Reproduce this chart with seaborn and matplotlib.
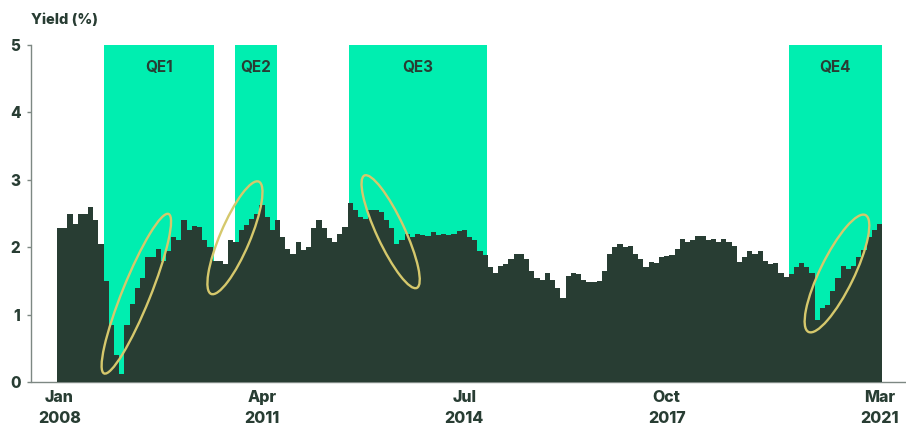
import matplotlib
matplotlib.use("Agg")
import matplotlib.pyplot as plt
import matplotlib.transforms as mtransforms
from matplotlib.patches import Ellipse
import numpy as np
import pandas as pd
import seaborn as sns

# Monthly yield (%), Jan 2008 - Mar 2021
yield_2008 = [2.28, 2.28, 2.50, 2.35, 2.50, 2.50, 2.60, 2.40, 2.05, 1.50, 0.85, 0.40]
yield_2009 = [0.12, 0.85, 1.15, 1.40, 1.55, 1.85, 1.85, 1.98, 1.80, 1.95, 2.15, 2.10]
yield_2010 = [2.40, 2.25, 2.32, 2.30, 2.10, 2.00, 1.80, 1.80, 1.75, 2.10, 2.08, 2.25]
yield_2011 = [2.33, 2.42, 2.50, 2.62, 2.45, 2.25, 2.40, 2.15, 1.98, 1.90, 2.08, 1.96]
yield_2012 = [2.00, 2.28, 2.40, 2.28, 2.13, 2.08, 2.20, 2.30, 2.65, 2.55, 2.45, 2.42]
yield_2013 = [2.55, 2.55, 2.52, 2.40, 2.28, 2.05, 2.10, 2.20, 2.15, 2.20, 2.18, 2.17]
yield_2014 = [2.23, 2.18, 2.20, 2.18, 2.20, 2.24, 2.25, 2.15, 2.10, 1.95, 1.88, 1.70]
yield_2015 = [1.62, 1.72, 1.75, 1.82, 1.90, 1.90, 1.82, 1.65, 1.55, 1.52, 1.62, 1.52]
yield_2016 = [1.40, 1.25, 1.57, 1.62, 1.60, 1.52, 1.49, 1.49, 1.50, 1.65, 1.90, 2.00]
yield_2017 = [2.05, 2.00, 2.02, 1.90, 1.82, 1.70, 1.78, 1.77, 1.85, 1.87, 1.88, 1.98]
yield_2018 = [2.12, 2.08, 2.10, 2.16, 2.16, 2.10, 2.12, 2.08, 2.12, 2.08, 2.02, 1.78]
yield_2019 = [1.85, 1.94, 1.90, 1.95, 1.80, 1.75, 1.76, 1.62, 1.56, 1.60, 1.70, 1.76]
yield_2020 = [1.70, 1.62, 0.92, 1.10, 1.14, 1.35, 1.55, 1.72, 1.68, 1.72, 1.85, 1.96]
yield_2021 = [2.15, 2.25, 2.35]

# Quantitative easing programmes
qe_names = ["QE1", "QE2", "QE3", "QE4"]
qe_start = ["2008-10-03", "2010-11-10", "2012-09-09", "2019-10-01"]
qe_end = ["2010-07-08", "2011-07-12", "2014-11-26", "2021-04-01"]

tick_dates = ["2008-01", "2011-04", "2014-07", "2017-10", "2021-03"]
tick_labels = ["Jan\n2008", "Apr\n2011", "Jul\n2014", "Oct\n2017", "Mar\n2021"]

yields = (yield_2008 + yield_2009 + yield_2010 + yield_2011 + yield_2012 + yield_2013
          + yield_2014 + yield_2015 + yield_2016 + yield_2017 + yield_2018 + yield_2019
          + yield_2020 + yield_2021)
months = pd.period_range("2008-01", periods=len(yields), freq="M")
df = pd.DataFrame({"month": months.strftime("%Y-%m"), "yield": yields})

DARK = "#283D33"
GREEN = "#00EEB0"
OLIVE = "#D5C86C"
GREY = "#7D8883"

sns.set_theme(style="white")
plt.rcParams["font.family"] = ["Inter", "DejaVu Sans"]


def month_pos(date_str):
    """Position of a calendar date on the monthly category axis."""
    d = pd.Timestamp(date_str)
    frac = (d.day - 1) / d.days_in_month
    return (d.year - 2008) * 12 + (d.month - 1) + frac - 0.5


fig = plt.figure(figsize=(9.06, 4.43), dpi=100)
ax = fig.add_axes([31.5 / 906, 1 - 382 / 443, 1 - 31.5 / 906, (382 - 45) / 443])

# QE shading behind the bars
for name, s, e in zip(qe_names, qe_start, qe_end):
    x0, x1 = month_pos(s), month_pos(e)
    ax.axvspan(x0, x1, ymin=0, ymax=1, color=GREEN, lw=0, zorder=0)
    ax.text((x0 + x1) / 2, 4.66, name, ha="center", va="center",
            fontsize=11, fontweight="bold", color=DARK, zorder=3)

sns.barplot(data=df, x="month", y="yield", color=DARK, saturation=1,
            width=1.0, linewidth=0, ax=ax, zorder=2)
for bar in ax.patches:
    bar.set_antialiased(False)

# Highlight rings around the yield moves during each programme
rings = [
    ("2009-04", 1.31, 1.72, 0.28, 68),
    ("2010-11", 2.14, 1.22, 0.30, 67),
    ("2013-05", 2.23, 1.24, 0.28, 115),
    ("2020-07", 1.61, 1.30, 0.34, 64),
]
for m, cy, w, h, ang in rings:
    cx = month_pos(m + "-01") + 0.3
    tr = fig.dpi_scale_trans + mtransforms.ScaledTranslation(cx, cy, ax.transData)
    ax.add_patch(Ellipse((0, 0), w, h, angle=ang, transform=tr, fill=False,
                         ec=OLIVE, lw=1.7, zorder=4, clip_on=False))

ax.set_ylim(0, 5)
ax.set_xlim(-5.4, 163.1)
ax.set_yticks(range(0, 6))
ax.set_yticklabels([str(v) for v in range(0, 6)])
ax.set_xticks([month_pos(t + "-01") + 0.5 for t in tick_dates])
ax.set_xticklabels(tick_labels)
ax.set_xlabel("")
ax.set_ylabel("")

for side in ["top", "right"]:
    ax.spines[side].set_visible(False)
for side in ["left", "bottom"]:
    ax.spines[side].set_color(GREY)
    ax.spines[side].set_linewidth(1.0)
    ax.spines[side].set_zorder(1)

ax.tick_params(axis="y", length=3, width=1, color=GREY, pad=5,
               labelsize=11, labelcolor=DARK, left=True)
ax.tick_params(axis="x", length=0, pad=6, labelsize=11.5, labelcolor=DARK)
for lab in ax.get_xticklabels() + ax.get_yticklabels():
    lab.set_fontweight("heavy")
for lab in ax.get_xticklabels():
    lab.set_linespacing(1.5)

fig.text(31.5 / 906, 1 - 24 / 443, "Yield (%)", ha="left", va="baseline",
         fontsize=10.5, fontweight="heavy", color=DARK)

fig.savefig("out.png", dpi=100, facecolor="white")
